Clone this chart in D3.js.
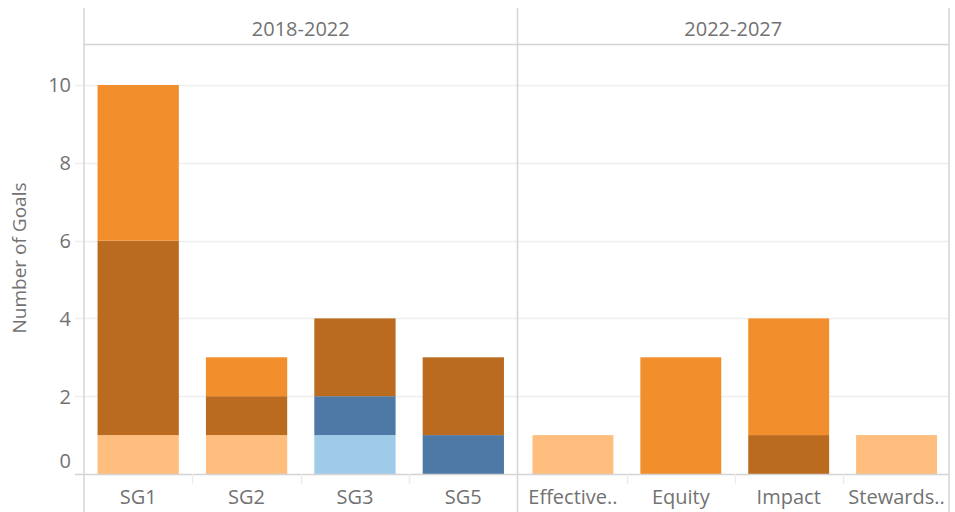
<!DOCTYPE html>
<html><head><meta charset="utf-8">
<script src="https://cdn.jsdelivr.net/npm/d3@7"></script>
<style>
body{margin:0;background:#fff;}
text{font-family:"Open Sans","Lato",sans-serif;fill:#727272;}
</style></head>
<body><svg id="c" width="955" height="512"></svg>
<script>
const periods = ["2018-2022", "2022-2027"];
const categories1 = ["SG1", "SG2", "SG3", "SG5"];
const categories2 = ["Effective..", "Equity", "Impact", "Stewards.."];
const seriesNames = ["Peach", "LightBlue", "Blue", "Brown", "Orange"];
const seriesColors = ["#FFBE7D", "#A0CBE8", "#4E79A7", "#BA6B20", "#F28E2B"];
// values per series, in order categories1 then categories2
const peach     = [1, 1, 0, 0, 1, 0, 0, 1];
const lightBlue = [0, 0, 1, 0, 0, 0, 0, 0];
const blue      = [0, 0, 1, 1, 0, 0, 0, 0];
const brown     = [5, 1, 2, 2, 0, 0, 1, 0];
const orange    = [4, 1, 0, 0, 0, 3, 3, 0];
const yTicks = [0, 2, 4, 6, 8, 10];

(function(){
const svg = d3.select("#c");
const mLeft = 84, mRight = 949, divider = 517.5, mTop = 8, headerBottom = 44, baseline = 474, H = 512;
const y = d3.scaleLinear().domain([0, 10]).range([baseline, 85]);

const allCats = categories1.concat(categories2);
const rows = allCats.map((c, i) => ({cat: c, period: i < 4 ? 0 : 1,
  Peach: peach[i], LightBlue: lightBlue[i], Blue: blue[i], Brown: brown[i], Orange: orange[i]}));
const stack = d3.stack().keys(seriesNames)(rows);

const panels = [[mLeft, divider], [divider, mRight]];
const xs = [
  d3.scaleBand().domain(categories1).range([mLeft, divider]).paddingInner(0.25).paddingOuter(0.125),
  d3.scaleBand().domain(categories2).range([divider + 1.5, mRight + 1.5]).paddingInner(0.25).paddingOuter(0.125)
];

svg.append("g").selectAll("line").data(yTicks.filter(d => d > 0)).join("line")
  .attr("x1", 75).attr("x2", mRight).attr("y1", d => Math.round(y(d)) + 0.5).attr("y2", d => Math.round(y(d)) + 0.5)
  .attr("stroke", "#efefef").attr("stroke-width", 1.5);

stack.forEach((s, si) => {
  svg.append("g").attr("fill", seriesColors[si]).selectAll("rect")
    .data(s.filter(d => d[1] - d[0] > 0)).join("rect")
    .attr("x", d => xs[d.data.period](d.data.cat))
    .attr("width", d => xs[d.data.period].bandwidth())
    .attr("y", d => y(d[1]))
    .attr("height", d => y(d[0]) - y(d[1]));
});

const lineCol = "#d4d4d4";
svg.append("line").attr("x1", mLeft).attr("x2", mRight).attr("y1", headerBottom + 0.5).attr("y2", headerBottom + 0.5).attr("stroke", lineCol).attr("stroke-width", 1.5);
svg.append("line").attr("x1", 75).attr("x2", mRight).attr("y1", baseline + 0.5).attr("y2", baseline + 0.5).attr("stroke", lineCol).attr("stroke-width", 1.5);
[mLeft, divider, mRight].forEach(x => {
  svg.append("line").attr("x1", x).attr("x2", x).attr("y1", mTop).attr("y2", H).attr("stroke", lineCol).attr("stroke-width", 1.5);
});
[0, 1].forEach(p => {
  const sc = xs[p];
  sc.domain().slice(1).forEach(c => {
    const xx = Math.round(sc(c) - sc.step() * sc.paddingInner() / 2) + 0.5;
    svg.append("line").attr("x1", xx).attr("x2", xx).attr("y1", baseline).attr("y2", 484).attr("stroke", "#ececec").attr("stroke-width", 1.5);
  });
});

periods.forEach((p, i) => {
  svg.append("text").attr("x", (panels[i][0] + panels[i][1]) / 2).attr("y", 31)
    .attr("text-anchor", "middle").attr("dominant-baseline", "middle").attr("font-size", 20).text(p);
});

svg.append("g").selectAll("text").data(yTicks).join("text")
  .attr("x", 71).attr("y", d => d === 0 ? y(d) - 11 : y(d) + 2)
  .attr("text-anchor", "end").attr("dominant-baseline", "middle").attr("font-size", 20).text(d => d);

[0, 1].forEach(p => {
  const sc = xs[p];
  svg.append("g").selectAll("text").data(sc.domain()).join("text")
    .attr("x", d => sc(d) + sc.bandwidth() / 2).attr("y", 499)
    .attr("text-anchor", "middle").attr("dominant-baseline", "middle").attr("font-size", 20).text(d => d);
});

svg.append("text").attr("transform", "translate(21,258) rotate(-90)")
  .attr("text-anchor", "middle").attr("dominant-baseline", "middle").attr("font-size", 19).text("Number of Goals");
})();
</script></body></html>
